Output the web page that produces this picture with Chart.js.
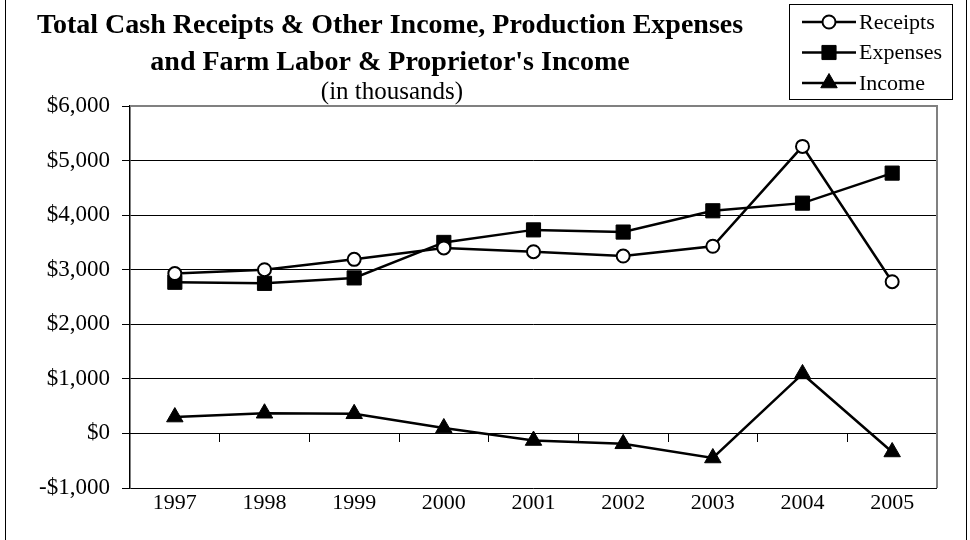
<!DOCTYPE html>
<html><head><meta charset="utf-8">
<script src="https://cdn.jsdelivr.net/npm/chart.js@4"></script>
<style>html,body{margin:0;padding:0;background:#fff;}#wrap{width:970px;height:540px;position:relative;}</style>
</head><body><div id="wrap"><canvas id="c" width="970" height="540"></canvas></div>
<script>
const years = ['1997','1998','1999','2000','2001','2002','2003','2004','2005'];
const receipts = [2930, 3000, 3190, 3400, 3330, 3250, 3430, 5260, 2780];
const expenses = [2770, 2750, 2850, 3500, 3730, 3690, 4080, 4220, 4770];
const income = [300, 370, 360, 100, -130, -190, -450, 1090, -340];
const seriesNames = ['Receipts', 'Expenses', 'Income'];
const yMin = -1000, yMax = 6000, yStep = 1000;
const titleLines = ['Total Cash Receipts & Other Income, Production Expenses', "and Farm Labor & Proprietor's Income"];
const subtitleText = '(in thousands)';

const FONT = '"Liberation Serif", "Times New Roman", serif';

function fmtMoney(v) {
  const s = '$' + Math.abs(v).toLocaleString('en-US');
  return v < 0 ? '-' + s : s;
}

function drawMarker(ctx, style, r, x, y) {
  if (style === 'circle') { ctx.arc(x, y, r, 0, Math.PI * 2); }
  else if (style === 'rect') { const s = Math.SQRT1_2 * r; ctx.rect(x - s, y - s, 2 * s, 2 * s); }
  else if (style === 'triangle') {
    let rad = 0;
    ctx.moveTo(x + Math.sin(rad) * r, y - Math.cos(rad) * r);
    rad += 2 * Math.PI / 3; ctx.lineTo(x + Math.sin(rad) * r, y - Math.cos(rad) * r);
    rad += 2 * Math.PI / 3; ctx.lineTo(x + Math.sin(rad) * r, y - Math.cos(rad) * r);
    ctx.closePath();
  }
}

const decor = {
  id: 'decor',
  beforeDatasetsDraw(chart) {
    const {ctx, chartArea: a} = chart;
    ctx.save();
    ctx.strokeStyle = '#808080';
    ctx.lineWidth = 2;
    ctx.beginPath();
    ctx.moveTo(a.left, a.top); ctx.lineTo(a.right, a.top); ctx.lineTo(a.right, a.bottom);
    ctx.stroke();
    ctx.restore();
  },
  afterDraw(chart) {
    const {ctx} = chart;
    ctx.save();
    ctx.strokeStyle = '#000'; ctx.lineWidth = 1;
    ctx.beginPath();
    ctx.moveTo(5.5, 0); ctx.lineTo(5.5, 540);
    ctx.moveTo(966.5, 0); ctx.lineTo(966.5, 540);
    ctx.stroke();
    ctx.fillStyle = '#000';
    ctx.textAlign = 'center'; ctx.textBaseline = 'alphabetic';
    ctx.font = 'bold 28px ' + FONT;
    ctx.fillText(titleLines[0], 390, 33);
    ctx.fillText(titleLines[1], 390, 70);
    ctx.font = '25px ' + FONT;
    ctx.fillText(subtitleText, 392, 99);
    ctx.strokeStyle = '#000'; ctx.lineWidth = 1;
    ctx.strokeRect(789.5, 4.5, 163, 95);
    const rows = [22, 52.5, 83];
    chart.data.datasets.forEach((ds, i) => {
      const y = rows[i];
      ctx.strokeStyle = ds.borderColor; ctx.lineWidth = ds.borderWidth;
      ctx.beginPath(); ctx.moveTo(802, y); ctx.lineTo(856, y); ctx.stroke();
      ctx.fillStyle = ds.pointBackgroundColor; ctx.strokeStyle = ds.pointBorderColor; ctx.lineWidth = ds.pointBorderWidth;
      ctx.beginPath();
      drawMarker(ctx, ds.pointStyle, ds.pointRadius, 829, y);
      ctx.fill(); ctx.stroke();
      ctx.fillStyle = '#000';
      ctx.font = '22px ' + FONT; ctx.textAlign = 'left'; ctx.textBaseline = 'middle';
      ctx.fillText(ds.label, 859, y + 1);
    });
    ctx.restore();
  }
};

const ds = (label, data, style, radius, fill, bw) => ({
  label, data, xAxisID: 'x', yAxisID: 'y',
  borderColor: '#000', borderWidth: 2.5, tension: 0, fill: false,
  pointStyle: style, pointRadius: radius, pointHoverRadius: radius,
  pointBackgroundColor: fill, pointBorderColor: '#000', pointBorderWidth: bw
});

new Chart(document.getElementById('c'), {
  type: 'line',
  data: {
    labels: years,
    datasets: [
      ds(seriesNames[0], receipts, 'circle', 6.5, '#fff', 2),
      ds(seriesNames[1], expenses, 'rect', 10, '#000', 1),
      ds(seriesNames[2], income, 'triangle', 9.5, '#000', 1)
    ]
  },
  options: {
    responsive: false, animation: false,
    layout: {padding: {left: 0, top: 106, right: 33, bottom: 0}},
    plugins: {legend: {display: false}, title: {display: false}, tooltip: {enabled: false}},
    scales: {
      x: {
        type: 'category', position: 'bottom', offset: true,
        grid: {display: false, drawTicks: false},
        border: {display: false},
        ticks: {color: '#000', font: {family: FONT, size: 22}, padding: 2, maxRotation: 0, autoSkip: false},
        afterFit(s) { s.height = 52; }
      },
      x2: {
        type: 'category', position: {y: 0}, offset: true,
        grid: {display: true, drawOnChartArea: false, drawTicks: true, tickLength: 8, color: '#000', lineWidth: 1, offset: true},
        border: {display: true, color: '#000', width: 1},
        ticks: {display: false}
      },
      y: {
        type: 'linear', position: 'left', min: yMin, max: yMax,
        grid: {color: '#000', lineWidth: 1, tickLength: 8, drawTicks: true},
        border: {display: true, color: '#000', width: 1.5},
        ticks: {stepSize: yStep, color: '#000', padding: 12, font: {family: FONT, size: 23}, callback: v => fmtMoney(v)},
        afterFit(s) { s.width = 130; }
      }
    }
  },
  plugins: [decor]
});
</script></body></html>
